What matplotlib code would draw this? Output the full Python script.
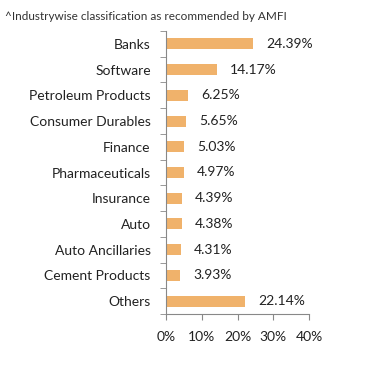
import matplotlib
matplotlib.use("Agg")
import matplotlib.pyplot as plt

categories = ["Banks", "Software", "Petroleum Products", "Consumer Durables",
              "Finance", "Pharmaceuticals", "Insurance", "Auto",
              "Auto Ancillaries", "Cement Products", "Others"]
values = [24.39, 14.17, 6.25, 5.65, 5.03, 4.97, 4.39, 4.38, 4.31, 3.93, 22.14]
xticks = [0, 10, 20, 30, 40]

plt.rcParams["font.family"] = ["Lato", "DejaVu Sans"]

fig = plt.figure(figsize=(3.91, 3.67), dpi=100)
ax = fig.add_axes([166 / 391, 1 - 314 / 367, (309 - 166) / 391, (314 - 31) / 367])

pos = list(range(len(categories)))
ax.barh(pos, values, height=0.43, color="#F0B26B")
for p, v in zip(pos, values):
    ax.text(v + 3.6, p, f"{v:.2f}%", va="center", ha="left", fontsize=10, color="#222222")

ax.set_ylim(len(categories) - 0.5, -0.5)
ax.set_xlim(0, 40)
ax.set_yticks(pos)
ax.set_yticklabels(categories, fontsize=10, color="#222222")
ax.tick_params(axis="y", length=0, pad=11)
ax.set_yticks([p - 0.5 for p in pos] + [len(pos) - 0.5], minor=True)
ax.tick_params(axis="y", which="minor", length=4, color="#888888")
ax.set_xticks(xticks)
ax.set_xticklabels([f"{t}%" for t in xticks], fontsize=10, color="#222222")
ax.tick_params(axis="x", length=4, color="#888888", pad=8)

for s in ["top", "right"]:
    ax.spines[s].set_visible(False)
for s in ["left", "bottom"]:
    ax.spines[s].set_color("#888888")

fig.text(5 / 391, 1 - 17 / 367, "^Industrywise classification as recommended by AMFI",
         fontsize=8.5, color="#333333", va="center", ha="left")

fig.savefig("out.png", dpi=100)
